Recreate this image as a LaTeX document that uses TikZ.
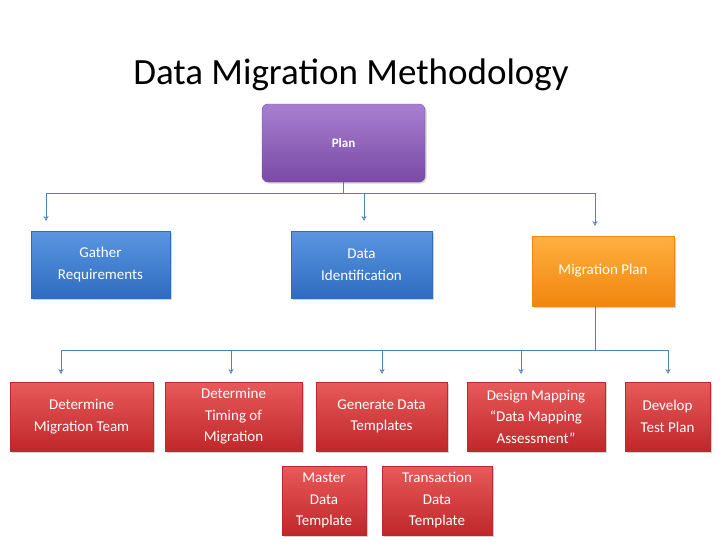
\documentclass[tikz,border=0pt]{standalone}
\usepackage{fontspec}
\setmainfont{Carlito}
\usetikzlibrary{arrows.meta,positioning,shadows}
\definecolor{PlanTop}{HTML}{A77FD0}
\definecolor{PlanBot}{HTML}{7A4AA5}
\definecolor{BlueTop}{HTML}{5A96E0}
\definecolor{BlueBot}{HTML}{2F6CC0}
\definecolor{OrangeTop}{HTML}{FFB040}
\definecolor{OrangeBot}{HTML}{F0860E}
\definecolor{RedTop}{HTML}{E85A5A}
\definecolor{RedBot}{HTML}{C0272A}
\definecolor{LinkBlue}{HTML}{4F81BD}
\tikzset{
  box/.style={rectangle,align=center,text=white,font=\fontsize{15}{21.5}\selectfont,
              inner sep=2pt,drop shadow={opacity=0.35,shadow xshift=1.5pt,shadow yshift=-1.5pt}},
  bluebox/.style={box,top color=BlueTop,bottom color=BlueBot,draw=BlueBot},
  orangebox/.style={box,top color=OrangeTop,bottom color=OrangeBot,draw=OrangeBot},
  redbox/.style={box,top color=RedTop,bottom color=RedBot,draw=RedBot},
  link/.style={draw=LinkBlue,line width=0.6pt},
  linkarrow/.style={link,-{Stealth[open,length=5pt,width=5pt]}}
}
\begin{document}
\begin{tikzpicture}[x=1pt,y=-1pt]
  \useasboundingbox (0,0) rectangle (728,546);
  \node (title) at (351,75) {\fontsize{37}{44}\selectfont Data Migration Methodology};
  % top level
  \node[box,rounded corners=6pt,top color=PlanTop,bottom color=PlanBot,draw=PlanBot,
        minimum width=163pt,minimum height=78pt,font=\bfseries\fontsize{13}{16}\selectfont]
        (plan) at (343.5,143) {Plan};
  \node[bluebox,minimum width=139pt,minimum height=67pt] (gather) at (100.5,264.5) {Gather\\Requirements};
  \node[bluebox,minimum width=141pt,minimum height=67pt] (ident) at (361.5,264.5) {Data\\Identification};
  \node[orangebox,minimum width=142pt,minimum height=70pt] (mplan) at (603,271) {Migration Plan};
  % second level
  \node[redbox,minimum width=143pt,minimum height=69pt] (team) at (81.5,416.5) {Determine\\Migration Team};
  \node[redbox,minimum width=137pt,minimum height=69pt] (timing) at (233.5,416.5) {Determine\\Timing of\\Migration};
  \node[redbox,minimum width=131pt,minimum height=69pt] (templ) at (381.5,416.5) {Generate Data\\Templates};
  \node[redbox,minimum width=138pt,minimum height=69pt] (mapping) at (536,416.5) {Design Mapping\\“Data Mapping\\Assessment”};
  \node[redbox,minimum width=85pt,minimum height=69pt] (test) at (667.5,416.5) {Develop\\Test Plan};
  \node[redbox,minimum width=84pt,minimum height=69pt] (master) at (324,500.5) {Master\\Data\\Template};
  \node[redbox,minimum width=110pt,minimum height=69pt] (trans) at (437,500.5) {Transaction\\Data\\Template};
  % connectors
  \coordinate (busA) at (343.5,193);
  \draw[link] (plan.south) -- (busA);
  \draw[link] (busA) -- (46,193) coordinate (busAL);
  \draw[link] (busA) -- (595,193) coordinate (busAR);
  \draw[linkarrow] (busAL) -- (46,221);
  \draw[linkarrow] (364,193) -- (364,221);
  \draw[linkarrow] (busAR) -- (595,226);
  \coordinate (busB) at (595,350);
  \draw[link] (mplan.south -| busB) -- (busB);
  \draw[link] (61,350) coordinate (busBL) -- (668,350);
  \foreach \x in {61,231,382,521,668}
    \draw[linkarrow] (\x,350) -- (\x,374);
\end{tikzpicture}
\end{document}
